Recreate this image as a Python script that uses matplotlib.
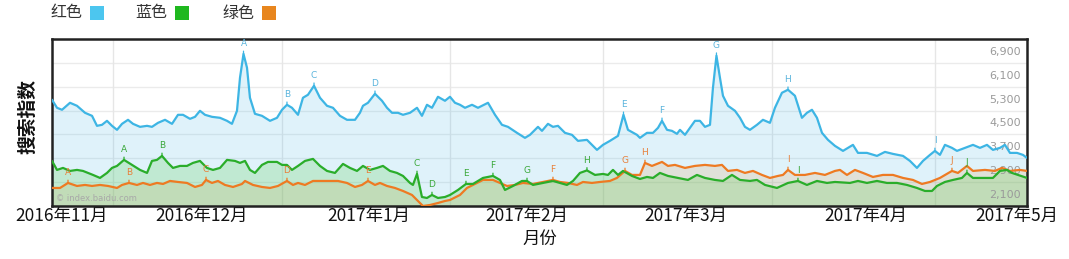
import numpy as np
import matplotlib
matplotlib.use("Agg")
import matplotlib.pyplot as plt
from matplotlib.patches import Rectangle

plt.rcParams['font.family'] = ['Noto Sans CJK SC', 'DejaVu Sans']

# ---------------- data (x = days since 2016-11-01) ----------------
series_names = ['红色', '蓝色', '绿色']

red_x = [0, 0.93, 1.86, 3.34, 4.64, 6.13, 7.43, 8.35, 9.28, 10.21, 11.14, 12.07, 13.0, 14.11, 15.04,
         16.34, 17.64, 18.56, 19.68, 20.98, 22.28, 23.39, 24.32, 25.62, 26.55, 27.47, 28.4, 29.7,
         31.19, 32.49, 33.41, 34.34, 34.9, 35.55, 36.2, 36.75, 37.68, 38.98, 40.47, 41.77, 42.7,
         43.62, 44.55, 45.67, 46.59, 47.52, 48.64, 49.75, 51.05, 52.16, 53.46, 54.76, 56.25, 57.17,
         57.73, 58.66, 59.96, 61.26, 62.19, 63.12, 64.23, 65.16, 66.46, 67.76, 68.68, 69.61, 70.54,
         71.65, 72.95, 73.88, 74.81, 75.74, 76.67, 77.97, 79.08, 80.94, 82.24, 83.53, 84.65, 86.32,
         87.8, 88.73, 90.22, 90.96, 92.07, 93.0, 93.93, 95.23, 96.53, 97.64, 99.31, 101.17, 102.28,
         103.58, 105.07, 106.09, 106.92, 108.59, 109.15, 110.45, 111.57, 112.5, 113.24, 114.17,
         115.09, 116.02, 116.58, 117.51, 118.43, 119.36, 120.29, 121.22, 122.15, 122.7, 123.35,
         124.0, 124.56, 125.49, 126.79, 127.72, 128.64, 129.57, 130.87, 131.98, 133.28, 134.21,
         135.51, 136.63, 137.92, 139.22, 140.15, 141.08, 142.01, 142.94, 144.05, 145.35, 146.84,
         148.69, 149.62, 151.29, 153.15, 154.63, 156.12, 157.98, 159.27, 160.57, 161.69, 162.99,
         163.91, 164.84, 165.77, 167.07, 168.0, 169.48, 170.97, 172.27, 173.57, 174.68, 175.98,
         176.91, 177.84, 179.14, 180.25, 181.0]
red_v = [5662, 5393, 5326, 5561, 5460, 5225, 5124, 4788, 4822, 4956, 4788, 4654, 4855, 4990, 4855,
         4754, 4788, 4754, 4889, 4990, 4855, 5158, 5158, 5023, 5090, 5292, 5158, 5090,
         5057, 4956, 4855, 5292, 6401, 7200, 6737, 5729, 5191, 5124, 4956, 5057, 5326,
         5494, 5393, 5158, 5729, 5830, 6132, 5729, 5460, 5393, 5124, 4990, 4990, 5225,
         5460, 5561, 5863, 5628, 5393, 5225, 5225, 5158, 5225, 5393, 5124, 5494, 5393,
         5762, 5628, 5762, 5561, 5494, 5393, 5494, 5393, 5561, 5158, 4822, 4754, 4553,
         4385, 4486, 4754, 4620, 4855, 4754, 4788, 4553, 4486, 4284, 4318, 3982, 4150,
         4284, 4452, 5158, 4654, 4486, 4385, 4553, 4553, 4721, 4956, 4654,
         4620, 4519, 4654, 4486, 4721, 4956, 4956, 4754, 4822, 6065, 7140,
         6401, 5796, 5460, 5292, 5057, 4754, 4654, 4822, 4990, 4889, 5393,
         5897, 5998, 5796, 5057, 5225, 5326, 5057, 4553, 4318, 4116, 3948,
         4150, 3881, 3881, 3780, 3914, 3847, 3780, 3612, 3377, 3612, 3814,
         3948, 3814, 4150, 4049, 3948, 4049, 4150, 4049, 4150, 3982, 4049,
         4150, 3881, 3881, 3814, 3713]

blue_x = [0, 0.93, 2.04, 3.34, 4.64, 5.75, 7.61, 8.91, 10.21, 11.14, 12.07, 13.37, 14.85, 16.34,
          17.64, 18.56, 19.49, 20.42, 21.53, 22.46, 23.76, 25.06, 26.17, 27.47, 28.77, 29.89,
          31.19, 32.49, 33.97, 34.9, 35.83, 36.75, 37.68, 38.98, 40.1, 41.77, 42.7, 43.62, 44.55,
          45.67, 46.97, 48.45, 49.75, 51.05, 52.53, 54.02, 55.32, 56.62, 57.73, 59.03, 60.33,
          61.44, 62.74, 64.04, 65.16, 66.46, 67.01, 67.76, 68.68, 69.61, 70.54, 71.65, 72.95,
          73.88, 75.37, 76.85, 78.15, 80.01, 81.86, 83.16, 84.09, 85.58, 87.25, 88.18, 89.29,
          91.15, 93.0, 95.6, 96.72, 98.01, 99.31, 100.8, 102.28, 103.21, 104.14, 105.07, 106.0,
          107.67, 109.15, 110.45, 111.57, 112.86, 114.35, 116.21, 118.06, 119.73, 121.22, 123.07,
          124.56, 126.23, 127.72, 129.57, 130.87, 132.36, 134.58, 136.63, 138.48, 140.15, 142.01,
          143.87, 145.35, 148.13, 149.62, 151.29, 153.15, 155.0, 156.86, 158.72, 160.57, 162.06,
          163.36, 164.28, 165.77, 167.26, 168.93, 169.85, 170.97, 172.83, 174.68, 175.98, 177.28,
          178.21, 179.32, 181.0]
blue_v = [3612, 3310, 3377, 3276, 3310, 3276, 3142, 3041, 3209, 3377, 3444, 3646, 3478, 3310,
          3209, 3612, 3646, 3780, 3545, 3377, 3444, 3444, 3545, 3612, 3377, 3310,
          3377, 3646, 3612, 3545, 3612, 3310, 3209, 3478, 3578, 3578, 3478, 3478, 3310,
          3444, 3612, 3679, 3444, 3276, 3209, 3511, 3377, 3276, 3444, 3310, 3377,
          3444, 3276, 3209, 3108, 2873, 2806, 3175, 2402, 2369, 2470, 2369, 2402,
          2470, 2638, 2839, 2839, 3041, 3108, 2974, 2638, 2772, 2940, 2940, 2806,
          2873, 2940, 2806, 2940, 3209, 3293, 3142, 3175, 3142, 3310, 3142, 3276,
          3108, 3007, 3074, 3041, 3209, 3108, 3041, 2974, 3142, 3041, 2974,
          2940, 3142, 2974, 2940, 2974, 2806, 2705, 2873, 2940, 2806, 2940,
          2873, 2906, 2873, 2940, 2873, 2940, 2873, 2873, 2806, 2705, 2604,
          2604, 2772, 2906, 2974, 3041, 3209, 3041, 3041, 3041, 3276, 3310,
          3209, 3142, 3041]

green_x = [0, 1.49, 2.97, 4.64, 6.13, 7.43, 8.91, 10.4, 12.07, 13.0, 14.29, 15.78, 16.89, 18.19,
           19.49, 20.61, 21.9, 23.39, 25.06, 26.55, 27.84, 28.59, 29.7, 30.81, 32.11, 33.6, 35.27,
           35.83, 37.31, 38.98, 40.47, 41.95, 43.62, 44.74, 45.67, 46.97, 48.45, 50.12, 51.61,
           53.09, 54.76, 56.25, 57.55, 58.66, 59.96, 60.89, 62.19, 63.67, 65.16, 66.83, 67.94,
           68.87, 70.17, 71.65, 72.95, 73.88, 75.74, 77.04, 78.15, 80.01, 81.86, 83.16, 84.46,
           85.95, 87.43, 89.29, 91.15, 93.0, 94.3, 95.79, 97.46, 98.57, 100.24, 101.73, 103.58,
           104.88, 106.37, 107.67, 109.15, 110.08, 111.38, 113.24, 114.35, 115.65, 117.51, 119.36,
           121.22, 123.07, 124.37, 125.49, 127.16, 128.64, 130.13, 131.8, 133.28, 134.77, 135.7,
           136.63, 137.92, 139.78, 141.64, 143.49, 145.35, 146.28, 147.58, 149.06, 150.55, 152.4,
           154.26, 156.12, 157.98, 159.83, 161.5, 162.99, 164.84, 167.07, 168.18, 169.85, 170.97,
           173.2, 175.05, 176.35, 177.84, 179.69, 181.0]
green_v = [2705, 2705, 2873, 2772, 2806, 2772, 2806, 2772, 2705, 2806, 2873, 2806, 2873, 2806,
           2873, 2839, 2940, 2906, 2873, 2738, 2806, 2974, 2873, 2940, 2806, 2738, 2839,
           2940, 2806, 2738, 2705, 2772, 2940, 2806, 2873, 2806, 2940, 2940, 2940,
           2940, 2873, 2738, 2806, 2940, 2806, 2873, 2772, 2705, 2604, 2470, 2268,
           2100, 2134, 2201, 2268, 2302, 2470, 2705, 2806, 2974, 2974, 2873, 2772,
           2806, 2873, 2839, 2906, 2974, 2906, 2873, 2806, 2906, 2873, 2906, 2940,
           3041, 3276, 3142, 3142, 3545, 3444, 3578, 3444, 3478, 3377, 3444,
           3478, 3444, 3478, 3276, 3310, 3209, 3276, 3142, 3041, 3108, 3142,
           3310, 3142, 3142, 3209, 3142, 3276, 3310, 3142, 3310, 3209, 3074,
           3142, 3142, 3041, 2974, 2839, 2906, 3041, 3276, 3209, 3444, 3276,
           3310, 3276, 3377, 3276, 3310, 3276]

# event markers (letter, day)
red_marks = [('A', 35.55), ('B', 43.62), ('C', 48.64), ('D', 59.96), ('E', 106.09),
             ('F', 113.24), ('G', 123.35), ('H', 136.63), ('I', 163.91)]
blue_marks = [('A', 13.37), ('B', 20.42), ('C', 67.76), ('D', 70.54), ('E', 76.85),
              ('F', 81.86), ('G', 88.18), ('H', 99.31), ('I', 138.48), ('J', 169.85)]
green_marks = [('A', 2.97), ('B', 14.29), ('C', 28.59), ('D', 43.62), ('E', 58.66),
               ('F', 93.0), ('G', 106.37), ('H', 110.08), ('I', 136.63), ('J', 167.07)]

x_tick_labels = ['2016年11月', '2016年12月', '2017年1月', '2017年2月', '2017年3月', '2017年4月', '2017年5月']
x_tick_pos = [1.86, 27.84, 58.85, 88.18, 117.7, 151.1, 179.1]
y_ticks = [2100, 2900, 3700, 4500, 5300, 6100, 6900]
v_grid_days = [11.3, 42.7, 73.9, 102.3, 133.7, 163.9]

# ---------------- styling ----------------
c_red = '#3db5e4'
c_blue = '#2aad2a'
c_green = '#ee7a22'
fill_red = '#3cb4e6'
fill_blue = '#55cc44'
fill_green = '#e8861e'

W, H = 1069, 259
fig = plt.figure(figsize=(W / 100, H / 100), dpi=100)
ax = fig.add_axes([52 / W, 53 / H, 975 / W, 167 / H])
ax.set_xlim(0, 181)
ax.set_ylim(2100, 7700)

# grid
for v in np.arange(2100, 7701, 800):
    ax.axhline(v, color='#ebebeb', lw=1.0, zorder=0.5)
for d in v_grid_days:
    ax.axvline(d, color='#e6e6e6', lw=1.0, zorder=0.5)

# fills
ax.fill_between(red_x, red_v, 2100, color=fill_red, alpha=0.16, lw=0, zorder=1)
ax.fill_between(green_x, green_v, 2100, color=fill_green, alpha=0.15, lw=0, zorder=1.1)
ax.fill_between(blue_x, blue_v, 2100, color=fill_blue, alpha=0.22, lw=0, zorder=1.2)

# y labels (inside, right)
for v in y_ticks:
    ax.text(0.994, v + 0.46 * 800, f'{v:,}', transform=ax.get_yaxis_transform(),
            ha='right', va='center', fontsize=8, color='#9a9a9a', zorder=1.5,
            family=['DejaVu Sans'])

# lines
lkw = dict(lw=1.6, solid_joinstyle='round', solid_capstyle='round')
ax.plot(red_x, red_v, color=c_red, zorder=3, **lkw)
ax.plot(green_x, green_v, color=c_green, zorder=3.1, **lkw)
ax.plot(blue_x, blue_v, color=c_blue, zorder=3.2, **lkw)

# event markers
def marks(mlist, xs, vs, color, tcolor):
    for letter, d in mlist:
        v = float(np.interp(d, xs, vs))
        ax.annotate(letter, xy=(d, v), xytext=(0, 4), textcoords='offset points',
                    ha='center', va='bottom', fontsize=6.5, color=tcolor, zorder=4,
                    family=['DejaVu Sans'],
                    arrowprops=dict(arrowstyle='-', color=color, lw=0.9,
                                    shrinkA=0, shrinkB=0))

marks(red_marks, red_x, red_v, c_red, '#5ab4dc')
marks(blue_marks, blue_x, blue_v, c_blue, '#3aa83a')
marks(green_marks, green_x, green_v, c_green, '#e8803a')

# watermark
ax.text(0.004, 0.02, '© index.baidu.com', transform=ax.transAxes, fontsize=6,
        color='#a8a8a8', ha='left', va='bottom', family=['DejaVu Sans'], zorder=2)

# axes styling
for s in ax.spines.values():
    s.set_color('#222222')
    s.set_linewidth(1.8)
ax.set_yticks([])
ax.set_xticks(x_tick_pos)
ax.set_xticklabels(x_tick_labels, fontsize=12.5, color='#111111')
ax.tick_params(axis='x', length=0, pad=1)
ax.set_xlabel('月份', fontsize=12.5, color='#111111', labelpad=3)
fig.text(28 / W, 1 - 116 / H, '搜索指数', rotation=90, ha='center', va='center',
         fontsize=13.5, color='#111111', fontweight='bold')

# legend
leg_colors = ['#4cc6ef', '#1fb81f', '#e8861e']
leg_text_x = [50, 135, 222]
for name, col, tx in zip(series_names, leg_colors, leg_text_x):
    fig.text(tx / W, 1 - 13 / H, name, ha='left', va='center', fontsize=11.5, color='#333333')
    fig.patches.append(Rectangle(((tx + 40) / W, 1 - 20 / H), 14 / W, 14 / H,
                                 transform=fig.transFigure, facecolor=col, edgecolor='none'))

fig.savefig('out.png', dpi=100)
